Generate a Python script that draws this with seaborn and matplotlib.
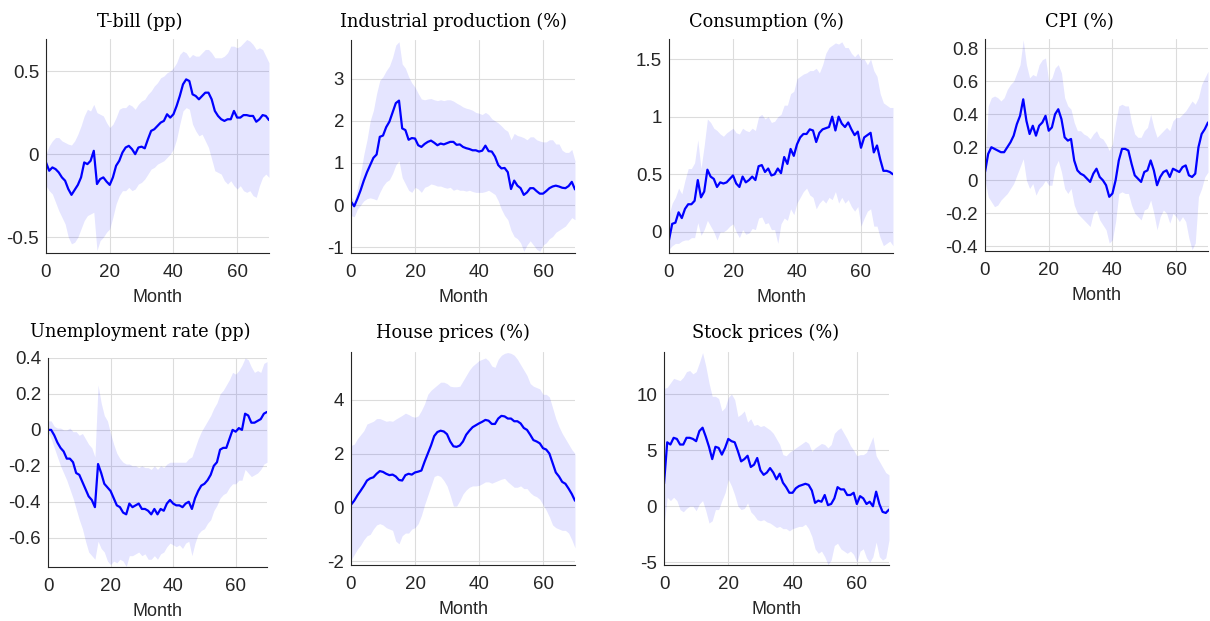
import numpy as np
import pandas as pd
import seaborn as sns
import matplotlib
matplotlib.use("Agg")
import matplotlib.pyplot as plt
from matplotlib.ticker import FuncFormatter, FixedLocator

# ---- impulse responses (median and 68% band), months 0..70 ----
months = list(range(71))

tbill_mid = [-0.05, -0.10, -0.08, -0.09, -0.11, -0.14, -0.16, -0.21, -0.245, -0.215,
             -0.185, -0.14, -0.05, -0.06, -0.04, 0.02, -0.18, -0.15, -0.14, -0.165,
             -0.185, -0.14, -0.07, -0.04, 0.01, 0.04, 0.05, 0.03, 0.0, 0.04,
             0.045, 0.035, 0.09, 0.14, 0.15, 0.17, 0.19, 0.20, 0.24, 0.22,
             0.24, 0.29, 0.35, 0.42, 0.45, 0.44, 0.36, 0.35, 0.33, 0.35,
             0.37, 0.37, 0.33, 0.26, 0.23, 0.21, 0.20, 0.21, 0.21, 0.26,
             0.22, 0.22, 0.235, 0.235, 0.23, 0.23, 0.195, 0.21, 0.235, 0.23,
             0.205]
tbill_hi = [0.00, 0.05, 0.08, 0.10, 0.10, 0.08, 0.07, 0.06, 0.055, 0.08,
            0.12, 0.17, 0.23, 0.27, 0.26, 0.30, 0.25, 0.24, 0.23, 0.19,
            0.16, 0.18, 0.22, 0.27, 0.28, 0.28, 0.30, 0.29, 0.27, 0.30,
            0.32, 0.33, 0.36, 0.38, 0.41, 0.43, 0.46, 0.47, 0.49, 0.50,
            0.52, 0.55, 0.60, 0.62, 0.61, 0.58, 0.60, 0.59, 0.59, 0.61,
            0.63, 0.63, 0.61, 0.58, 0.58, 0.58, 0.59, 0.61, 0.65, 0.65,
            0.64, 0.65, 0.67, 0.69, 0.68, 0.66, 0.63, 0.64, 0.63, 0.59,
            0.55]
tbill_lo = [-0.19, -0.22, -0.24, -0.29, -0.34, -0.38, -0.42, -0.50, -0.54, -0.53,
            -0.50, -0.45, -0.40, -0.37, -0.36, -0.35, -0.58, -0.52, -0.50, -0.47,
            -0.45, -0.38, -0.30, -0.25, -0.22, -0.22, -0.20, -0.22, -0.21, -0.18,
            -0.17, -0.15, -0.12, -0.09, -0.08, -0.06, -0.05, -0.04, -0.02, 0.00,
            0.03, 0.09, 0.18, 0.26, 0.28, 0.27, 0.18, 0.14, 0.11, 0.12,
            0.08, 0.04, -0.03, -0.10, -0.11, -0.12, -0.16, -0.18, -0.16, -0.19,
            -0.21, -0.19, -0.22, -0.23, -0.22, -0.25, -0.26, -0.19, -0.14, -0.12,
            -0.14]

ip_mid = [0.08, -0.03, 0.15, 0.35, 0.58, 0.78, 0.95, 1.12, 1.20, 1.62,
          1.65, 1.85, 1.98, 2.20, 2.42, 2.48, 1.82, 1.78, 1.55, 1.59,
          1.58, 1.42, 1.38, 1.45, 1.50, 1.53, 1.48, 1.42, 1.46, 1.44,
          1.47, 1.50, 1.50, 1.43, 1.44, 1.38, 1.35, 1.33, 1.30, 1.30,
          1.27, 1.29, 1.41, 1.28, 1.27, 1.15, 0.95, 0.87, 0.88, 0.78,
          0.38, 0.58, 0.46, 0.40, 0.24, 0.30, 0.40, 0.40, 0.33, 0.27,
          0.27, 0.33, 0.40, 0.44, 0.46, 0.44, 0.41, 0.40, 0.45, 0.55,
          0.37]
ip_hi = [0.20, 0.10, 0.40, 0.75, 1.20, 1.55, 2.00, 2.25, 2.65, 2.96,
         3.05, 3.19, 3.30, 3.51, 3.80, 3.88, 3.35, 3.25, 3.05, 2.90,
         2.80, 2.65, 2.52, 2.50, 2.52, 2.53, 2.50, 2.48, 2.50, 2.48,
         2.50, 2.50, 2.47, 2.42, 2.38, 2.33, 2.30, 2.28, 2.25, 2.20,
         2.18, 2.15, 2.20, 2.15, 2.05, 2.00, 1.95, 1.88, 1.80, 1.75,
         1.55, 1.70, 1.65, 1.63, 1.60, 1.55, 1.62, 1.62, 1.55, 1.52,
         1.50, 1.50, 1.55, 1.55, 1.45, 1.45, 1.30, 1.25, 1.25, 1.32,
         1.05]
ip_lo = [-0.25, -0.28, -0.10, 0.00, 0.10, 0.15, 0.17, 0.15, 0.12, 0.30,
         0.45, 0.55, 0.60, 0.75, 0.95, 1.05, 0.65, 0.50, 0.35, 0.30,
         0.42, 0.38, 0.30, 0.42, 0.45, 0.50, 0.48, 0.45, 0.45, 0.42,
         0.40, 0.42, 0.35, 0.38, 0.35, 0.35, 0.33, 0.35, 0.32, 0.30,
         0.30, 0.30, 0.32, 0.35, 0.30, 0.25, 0.10, -0.10, -0.25, -0.35,
         -0.60, -0.75, -0.80, -0.90, -1.10, -0.95, -0.85, -0.95, -1.05, -1.10,
         -0.95, -0.90, -0.80, -0.75, -0.65, -0.60, -0.55, -0.50, -0.40, -0.30,
         -0.35]

cons_mid = [-0.07, 0.07, 0.08, 0.17, 0.12, 0.20, 0.24, 0.24, 0.27, 0.45,
            0.30, 0.35, 0.54, 0.48, 0.46, 0.39, 0.43, 0.42, 0.43, 0.46,
            0.49, 0.42, 0.39, 0.48, 0.43, 0.45, 0.48, 0.45, 0.57, 0.58,
            0.52, 0.55, 0.49, 0.50, 0.55, 0.51, 0.65, 0.59, 0.72, 0.66,
            0.76, 0.82, 0.85, 0.85, 0.89, 0.88, 0.78, 0.86, 0.89, 0.90,
            0.91, 1.00, 0.88, 1.00, 0.94, 0.91, 0.95, 0.89, 0.84, 0.87,
            0.73, 0.82, 0.84, 0.86, 0.69, 0.75, 0.63, 0.53, 0.53, 0.52,
            0.50]
cons_hi = [0.15, 0.25, 0.30, 0.38, 0.33, 0.45, 0.55, 0.55, 0.60, 0.80,
           0.55, 0.75, 0.98, 0.95, 0.90, 0.88, 0.85, 0.83, 0.86, 0.88,
           0.90, 0.86, 0.85, 0.90, 0.88, 0.87, 0.90, 0.88, 1.00, 1.02,
           0.98, 1.00, 0.95, 0.96, 1.00, 1.02, 1.10, 1.10, 1.20, 1.22,
           1.33, 1.35, 1.37, 1.38, 1.40, 1.40, 1.42, 1.38, 1.45, 1.55,
           1.60, 1.62, 1.64, 1.63, 1.65, 1.60, 1.60, 1.55, 1.52, 1.55,
           1.50, 1.50, 1.45, 1.50, 1.40, 1.35, 1.20, 1.12, 1.10, 1.08,
           1.08]
cons_lo = [-0.15, -0.12, -0.10, -0.10, -0.08, -0.07, -0.07, -0.05, -0.05, 0.08,
           -0.03, 0.02, 0.10, 0.05, 0.00, -0.07, 0.00, 0.00, 0.02, 0.05,
           0.07, 0.00, -0.05, 0.02, -0.02, -0.01, 0.03, 0.02, 0.12, 0.13,
           0.07, 0.08, 0.02, 0.02, -0.10, 0.07, 0.12, 0.10, 0.20, 0.15,
           0.25, 0.30, 0.35, 0.38, 0.32, 0.30, 0.20, 0.25, 0.28, 0.25,
           0.30, 0.28, 0.35, 0.25, 0.30, 0.25, 0.28, 0.22, 0.18, 0.22,
           0.05, 0.12, 0.18, 0.20, 0.05, 0.05, -0.05, -0.12, -0.10, -0.08,
           -0.12]

cpi_mid = [0.05, 0.16, 0.20, 0.19, 0.18, 0.17, 0.17, 0.20, 0.23, 0.27,
           0.34, 0.39, 0.49, 0.36, 0.28, 0.33, 0.27, 0.33, 0.35, 0.39,
           0.30, 0.32, 0.40, 0.43, 0.37, 0.26, 0.24, 0.25, 0.12, 0.06,
           0.04, 0.03, 0.01, -0.01, 0.04, 0.07, 0.02, 0.00, -0.03, -0.10,
           -0.08, 0.00, 0.12, 0.19, 0.19, 0.18, 0.10, 0.03, 0.01, -0.01,
           0.05, 0.06, 0.12, 0.06, -0.03, 0.02, 0.05, 0.06, 0.02, 0.07,
           0.06, 0.05, 0.08, 0.09, 0.03, 0.02, 0.04, 0.20, 0.28, 0.31,
           0.35]
cpi_hi = [0.10, 0.45, 0.50, 0.51, 0.50, 0.48, 0.50, 0.55, 0.58, 0.60,
          0.65, 0.70, 0.85, 0.70, 0.62, 0.64, 0.63, 0.70, 0.73, 0.74,
          0.60, 0.62, 0.68, 0.70, 0.65, 0.50, 0.45, 0.43, 0.35, 0.30,
          0.30, 0.28, 0.27, 0.25, 0.28, 0.30, 0.26, 0.25, 0.22, 0.18,
          0.22, 0.35, 0.45, 0.46, 0.45, 0.45, 0.35, 0.28, 0.26, 0.26,
          0.30, 0.32, 0.40, 0.32, 0.26, 0.28, 0.30, 0.32, 0.30, 0.36,
          0.38, 0.38, 0.40, 0.42, 0.45, 0.48, 0.46, 0.50, 0.58, 0.62,
          0.66]
cpi_lo = [0.00, -0.10, -0.13, -0.16, -0.15, -0.12, -0.10, -0.08, -0.05, -0.02,
          0.03, 0.08, 0.13, 0.00, -0.05, -0.02, -0.09, -0.05, -0.03, 0.00,
          -0.03, -0.03, 0.08, 0.12, 0.05, -0.05, -0.08, -0.05, -0.15, -0.20,
          -0.22, -0.24, -0.26, -0.28, -0.20, -0.18, -0.24, -0.27, -0.30, -0.38,
          -0.36, -0.25, -0.08, -0.07, -0.08, -0.08, -0.15, -0.20, -0.22, -0.24,
          -0.18, -0.17, -0.12, -0.20, -0.30, -0.22, -0.18, -0.20, -0.26, -0.20,
          -0.22, -0.25, -0.22, -0.25, -0.35, -0.42, -0.38, -0.10, -0.05, 0.02,
          0.05]

unemp_mid = [0.00, 0.00, -0.03, -0.07, -0.10, -0.12, -0.16, -0.16, -0.18, -0.24,
             -0.25, -0.29, -0.33, -0.37, -0.39, -0.43, -0.19, -0.24, -0.30, -0.32,
             -0.34, -0.38, -0.42, -0.43, -0.46, -0.47, -0.41, -0.43, -0.42, -0.41,
             -0.44, -0.44, -0.45, -0.47, -0.44, -0.47, -0.44, -0.45, -0.41, -0.39,
             -0.41, -0.42, -0.42, -0.43, -0.41, -0.40, -0.44, -0.38, -0.34, -0.31,
             -0.30, -0.28, -0.25, -0.20, -0.18, -0.11, -0.10, -0.10, -0.05, 0.00,
             -0.01, 0.01, 0.00, 0.09, 0.08, 0.04, 0.04, 0.05, 0.06, 0.09,
             0.10]
unemp_hi = [0.05, 0.05, 0.02, 0.01, 0.01, 0.00, 0.00, 0.01, -0.01, -0.01,
            -0.03, -0.02, -0.05, -0.08, -0.10, -0.15, 0.25, 0.15, 0.08, 0.05,
            -0.02, -0.08, -0.13, -0.16, -0.18, -0.19, -0.19, -0.20, -0.20, -0.21,
            -0.20, -0.21, -0.21, -0.22, -0.20, -0.22, -0.20, -0.21, -0.19, -0.18,
            -0.18, -0.18, -0.18, -0.18, -0.18, -0.16, -0.15, -0.10, -0.05, -0.01,
            0.02, 0.05, 0.08, 0.12, 0.15, 0.20, 0.22, 0.25, 0.28, 0.32,
            0.31, 0.33, 0.36, 0.40, 0.39, 0.35, 0.32, 0.33, 0.32, 0.37,
            0.38]
unemp_lo = [-0.01, -0.05, -0.10, -0.15, -0.20, -0.24, -0.28, -0.33, -0.38, -0.44,
            -0.50, -0.55, -0.62, -0.68, -0.70, -0.72, -0.62, -0.66, -0.68, -0.73,
            -0.75, -0.73, -0.74, -0.72, -0.73, -0.76, -0.70, -0.70, -0.69, -0.68,
            -0.70, -0.69, -0.72, -0.72, -0.70, -0.72, -0.69, -0.68, -0.65, -0.63,
            -0.64, -0.65, -0.64, -0.66, -0.63, -0.62, -0.70, -0.63, -0.58, -0.56,
            -0.55, -0.52, -0.50, -0.45, -0.42, -0.38, -0.36, -0.35, -0.32, -0.30,
            -0.30, -0.28, -0.28, -0.22, -0.24, -0.26, -0.25, -0.24, -0.22, -0.19,
            -0.18]

house_mid = [0.10, 0.25, 0.45, 0.62, 0.80, 1.00, 1.08, 1.12, 1.25, 1.35,
             1.32, 1.25, 1.20, 1.22, 1.15, 1.02, 1.00, 1.20, 1.25, 1.22,
             1.30, 1.33, 1.37, 1.70, 2.00, 2.30, 2.65, 2.80, 2.85, 2.82,
             2.72, 2.45, 2.27, 2.25, 2.30, 2.45, 2.70, 2.85, 2.98, 3.05,
             3.12, 3.18, 3.25, 3.22, 3.10, 3.10, 3.30, 3.40, 3.38, 3.30,
             3.30, 3.20, 3.20, 3.12, 2.95, 2.88, 2.70, 2.50, 2.45, 2.38,
             2.20, 2.15, 2.00, 1.65, 1.30, 1.15, 0.95, 0.88, 0.70, 0.50,
             0.25]
house_hi = [2.30, 2.35, 2.55, 2.70, 2.85, 3.10, 3.15, 3.20, 3.30, 3.30,
            3.25, 3.20, 3.22, 3.20, 3.28, 3.35, 3.42, 3.50, 3.45, 3.38,
            3.35, 3.40, 3.60, 3.85, 4.20, 4.35, 4.45, 4.55, 4.65, 4.65,
            4.60, 4.50, 4.48, 4.48, 4.50, 4.70, 4.90, 5.10, 5.25, 5.35,
            5.45, 5.50, 5.55, 5.45, 5.25, 5.20, 5.50, 5.65, 5.72, 5.75,
            5.72, 5.65, 5.50, 5.30, 5.10, 4.90, 4.60, 4.50, 4.45, 4.40,
            4.20, 4.20, 4.10, 3.70, 3.30, 3.00, 2.75, 2.55, 2.35, 2.15,
            2.00]
house_lo = [-1.95, -1.75, -1.55, -1.40, -1.20, -1.05, -1.00, -0.80, -0.65, -0.60,
            -0.65, -0.75, -0.80, -0.85, -1.25, -1.35, -1.05, -0.95, -0.95, -0.80,
            -0.75, -0.60, -0.30, 0.10, 0.45, 0.80, 1.15, 1.20, 1.15, 1.00,
            0.80, 0.45, 0.05, 0.05, 0.25, 0.50, 0.65, 0.75, 0.80, 0.80,
            0.82, 0.88, 0.95, 0.95, 0.90, 0.95, 1.00, 1.05, 1.08, 0.95,
            0.85, 0.75, 0.75, 0.80, 0.70, 0.70, 0.55, 0.45, 0.40, 0.30,
            0.10, -0.10, -0.35, -0.65, -0.75, -0.80, -0.85, -0.85, -0.95, -1.20,
            -1.50]

stock_mid = [2.0, 5.7, 5.5, 6.1, 6.0, 5.5, 5.5, 6.1, 6.1, 6.0,
             5.8, 6.7, 7.0, 6.2, 5.3, 4.2, 5.3, 5.2, 4.6, 5.2,
             6.0, 5.8, 5.7, 4.9, 4.0, 4.2, 4.5, 3.5, 3.7, 4.3,
             3.2, 2.8, 3.0, 3.4, 3.0, 2.4, 2.9, 2.1, 1.7, 1.2,
             1.2, 1.6, 1.8, 1.9, 2.0, 1.9, 1.4, 0.3, 0.5, 0.4,
             1.0, 0.1, 0.2, 0.7, 1.7, 1.5, 1.5, 1.0, 1.0, 1.2,
             0.2, 0.9, 0.7, 0.2, 0.4, 0.0, 1.3, 0.2, -0.5, -0.6,
             -0.3]
stock_hi = [10.5, 10.6, 11.0, 11.4, 11.3, 11.2, 11.5, 12.0, 12.1, 11.8,
            12.0, 12.8, 13.7, 12.5, 11.0, 9.8, 9.8, 9.6, 8.5, 8.8,
            9.7, 10.0, 9.5, 8.0, 8.2, 8.5, 7.5, 7.8, 7.2, 7.3,
            7.1, 7.2, 7.0, 6.8, 6.5, 6.0, 5.5, 4.6, 4.5, 4.8,
            5.0, 5.2, 5.4, 5.6, 5.8, 5.6, 4.9, 5.2, 5.4, 5.6,
            5.5, 5.2, 5.5, 6.5, 6.8, 7.0, 6.5, 6.0, 5.4, 5.0,
            4.5, 4.6, 4.6, 4.8, 5.5, 6.2, 4.5, 4.0, 3.5, 3.0,
            2.8]
stock_lo = [-1.8, 0.8, 0.5, 0.8, 0.5, -0.3, -0.5, -0.2, 0.0, 0.0,
            -0.4, 0.2, 0.5, -0.4, -1.5, -1.3, -0.3, -0.3, 0.5, 1.2,
            2.4, 1.8, 1.0, 0.0, -0.3, -0.2, 0.3, -0.5, -0.8, -1.2,
            -1.3, -1.2, -1.4, -1.5, -1.7, -1.9, -1.8, -2.0, -2.0, -2.2,
            -2.0, -1.9, -1.8, -1.8, -1.6, -2.0, -2.7, -3.8, -4.2, -4.0,
            -4.5, -5.2, -4.8, -3.5, -3.3, -3.8, -4.0, -4.2, -4.0, -4.3,
            -5.0, -4.0, -3.8, -4.6, -5.0, -4.5, -3.2, -4.5, -4.8, -4.6,
            -3.0]

titles = ["T-bill (pp)", "Industrial production (%)", "Consumption (%)", "CPI (%)",
          "Unemployment rate (pp)", "House prices (%)", "Stock prices (%)"]
series = [(tbill_mid, tbill_lo, tbill_hi), (ip_mid, ip_lo, ip_hi),
          (cons_mid, cons_lo, cons_hi), (cpi_mid, cpi_lo, cpi_hi),
          (unemp_mid, unemp_lo, unemp_hi), (house_mid, house_lo, house_hi),
          (stock_mid, stock_lo, stock_hi)]
y_ticks = [[-0.5, 0, 0.5], [-1, 0, 1, 2, 3], [0, 0.5, 1, 1.5],
           [-0.4, -0.2, 0, 0.2, 0.4, 0.6, 0.8], [-0.6, -0.4, -0.2, 0, 0.2, 0.4],
           [-2, 0, 2, 4], [-5, 0, 5, 10]]
x_ticks = [0, 20, 40, 60]

# ---- layout ----
sns.set_style("white")
plt.rcParams["axes.unicode_minus"] = False
W, H = 1210, 621
fig = plt.figure(figsize=(W / 100, H / 100), dpi=100)

# axes boxes in pixels: left, right, top, bottom
boxes = [(46, 269, 39, 253), (351, 575, 40, 253), (669, 893, 39, 253), (985, 1208, 39, 251),
         (48, 267, 358, 567), (351, 575, 352, 565), (664, 889, 352, 565)]
y_limits = [(-0.595, 0.693), (-1.14, 3.92), (-0.183, 1.674), (-0.428, 0.855),
            (-0.763, 0.40), (-2.135, 5.77), (-5.24, 13.75)]
# title anchor points (centre x, baseline y) in pixels
title_pos = [(140, 27), (453, 27), (766, 27), (1079, 27),
             (140, 337), (453, 338), (766, 338)]

ink = "#262626"
sans = ["Liberation Sans", "DejaVu Sans"]
serif = ["DejaVu Serif"]
fmt = FuncFormatter(lambda v, p: f"{v:g}")

for (l, r, t, b), title, (mid, lo, hi), yt, yl, (tx, ty) in zip(
        boxes, titles, series, y_ticks, y_limits, title_pos):
    ax = fig.add_axes([l / W, 1 - b / H, (r - l) / W, (b - t) / H])
    ax.fill_between(months, lo, hi, color="blue", alpha=0.1, linewidth=0)
    df = pd.DataFrame({"Month": months, "Response": mid})
    sns.lineplot(data=df, x="Month", y="Response", ax=ax, color="blue", linewidth=1.6)
    ax.set_xlim(0, 70)
    ax.set_ylim(*yl)
    ax.xaxis.set_major_locator(FixedLocator(x_ticks))
    ax.yaxis.set_major_locator(FixedLocator(yt))
    ax.xaxis.set_major_formatter(fmt)
    ax.yaxis.set_major_formatter(fmt)
    ax.grid(True, color="#dcdcdc", linewidth=0.8)
    ax.set_axisbelow(True)
    for s in ["top", "right"]:
        ax.spines[s].set_visible(False)
    for s in ["left", "bottom"]:
        ax.spines[s].set_color(ink)
        ax.spines[s].set_linewidth(0.8)
    ax.tick_params(axis="both", direction="in", length=3, width=0.6, colors=ink,
                   labelsize=13.5)
    ax.tick_params(axis="x", pad=8)
    ax.tick_params(axis="y", pad=5)
    for lab in ax.get_xticklabels() + ax.get_yticklabels():
        lab.set_family(sans)
    ax.set_ylabel("")
    ax.set_xlabel("Month", fontsize=13, color=ink, family=sans, labelpad=6)
    fig.text(tx / W, 1 - ty / H, title, ha="center", va="baseline",
             fontsize=12.8, family=serif, color="black")

fig.savefig("out.png", dpi=100)
